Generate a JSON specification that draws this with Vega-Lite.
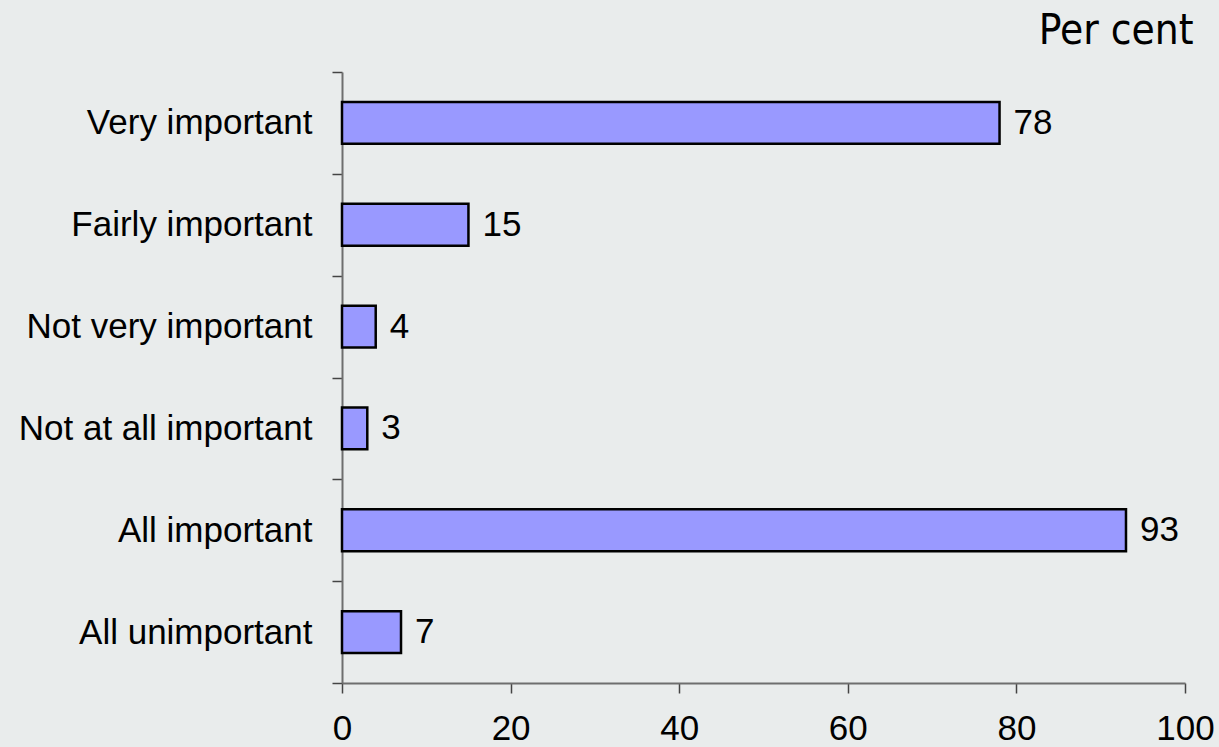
{
  "$schema": "https://vega.github.io/schema/vega-lite/v6.json",
  "width": 843,
  "height": 611,
  "autosize": "none",
  "padding": {"left": 342, "top": 72, "right": 34, "bottom": 64},
  "background": "#e9ecec",
  "data": {
    "values": [
      {"category": "Very important", "value": 78},
      {"category": "Fairly important", "value": 15},
      {"category": "Not very important", "value": 4},
      {"category": "Not at all important", "value": 3},
      {"category": "All important", "value": 93},
      {"category": "All unimportant", "value": 7}
    ]
  },
  "config": {
    "view": {"stroke": null},
    "axis": {
      "labelFont": "Liberation Sans",
      "labelFontSize": 35,
      "labelColor": "#000000",
      "domainColor": "#6e6e6e",
      "domainWidth": 2,
      "tickColor": "#444444",
      "tickWidth": 1.5,
      "tickSize": 10,
      "grid": false
    }
  },
  "resolve": {"axis": {"x": "independent"}},
  "encoding": {
    "y": {
      "field": "category",
      "type": "nominal",
      "sort": null,
      "scale": {"paddingInner": 0, "paddingOuter": 0},
      "axis": {"tickBand": "extent", "labelPadding": 20, "labelLimit": 400, "title": null}
    }
  },
  "layer": [
    {
      "mark": {"type": "bar", "height": {"band": 0.41}, "fill": "#9999ff", "stroke": "#000000", "strokeWidth": 2.5},
      "encoding": {
        "x": {
          "field": "value",
          "type": "quantitative",
          "scale": {"domain": [0, 100], "nice": false},
          "axis": {"values": [0, 20, 40, 60, 80, 100], "labelPadding": 18, "labelFlush": false, "title": null}
        }
      }
    },
    {
      "mark": {"type": "text", "align": "left", "baseline": "middle", "dx": 14, "font": "Liberation Sans", "fontSize": 35, "color": "#000000"},
      "encoding": {
        "x": {
          "field": "value",
          "type": "quantitative",
          "axis": {
            "orient": "top",
            "title": "Per cent",
            "labels": false,
            "ticks": false,
            "domain": false,
            "titleFont": "DejaVu Sans Condensed",
            "titleFontSize": 42,
            "titleFontWeight": "normal",
            "titleColor": "#000000",
            "titleAnchor": "end",
            "titleAlign": "right",
            "titleBaseline": "alphabetic",
            "titleX": 851,
            "titlePadding": 29
          }
        },
        "text": {"field": "value", "type": "quantitative"}
      }
    }
  ]
}
